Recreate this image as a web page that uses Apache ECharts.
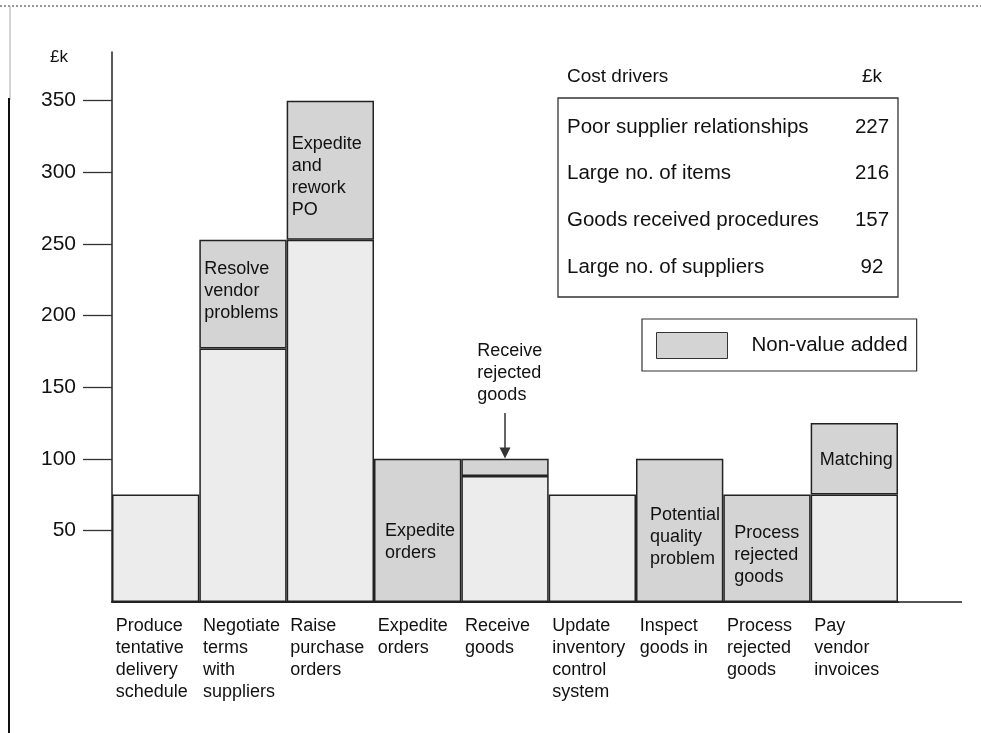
<!DOCTYPE html>
<html><head><meta charset="utf-8">
<script src="https://cdn.jsdelivr.net/npm/echarts@6/dist/echarts.min.js"></script>
<style>html,body{margin:0;padding:0;background:#fff}#c{width:981px;height:733px}</style>
</head><body><div id="c"></div>
<script>
const categories = ['Produce\ntentative\ndelivery\nschedule', 'Negotiate\nterms\nwith\nsuppliers', 'Raise\npurchase\norders', 'Expedite\norders', 'Receive\ngoods', 'Update\ninventory\ncontrol\nsystem', 'Inspect\ngoods in', 'Process\nrejected\ngoods', 'Pay\nvendor\ninvoices'];
const valueAdded = [75, 177, 253, null, 88, 75, null, null, 75];
const nonValueAdded = [null, 76, 97, 100, 12, null, 100, 75, 50];
const nvaLabels = ['', 'Resolve\nvendor\nproblems', 'Expedite\nand\nrework\nPO', 'Expedite\norders', 'Receive\nrejected\ngoods', '', 'Potential\nquality\nproblem', 'Process\nrejected\ngoods', 'Matching'];
const yTicks = [50, 100, 150, 200, 250, 300, 350];
const costDrivers = ['Poor supplier relationships', 'Large no. of items', 'Goods received procedures', 'Large no. of suppliers'];
const costValues = [227, 216, 157, 92];
const annotatedIndex = 4;

const FONT = '"Liberation Sans", Arial, sans-serif';
const TXT = '#111';
const labelPos = [null, [5, 18], [5, 32], [11, 61], [16, -119], null, [14, 45], [11, 27], [9, 26]];

const nvaData = nonValueAdded.map((v, i) => {
  const item = { value: v };
  if (nvaLabels[i]) {
    item.label = { show: true, position: labelPos[i], align: 'left', verticalAlign: 'top',
      formatter: nvaLabels[i], fontSize: 18, lineHeight: 22, color: TXT, fontFamily: FONT };
  }
  return item;
});
const annTotal = (valueAdded[annotatedIndex] || 0) + (nonValueAdded[annotatedIndex] || 0);

const tableGroup = [];
tableGroup.push({ type: 'text', x: 567, y: 77, style: { text: 'Cost drivers', font: '19px ' + FONT, fill: TXT, verticalAlign: 'middle', textAlign: 'left' } });
tableGroup.push({ type: 'text', x: 872, y: 77, style: { text: '£k', font: '19px ' + FONT, fill: TXT, verticalAlign: 'middle', textAlign: 'center' } });
tableGroup.push({ type: 'rect', shape: { x: 558, y: 98, width: 340, height: 199 }, style: { fill: 'none', stroke: '#333', lineWidth: 1.3 } });
costDrivers.forEach((d, i) => {
  const y = 127 + i * 46.7;
  tableGroup.push({ type: 'text', x: 567, y: y, style: { text: d, font: '20.5px ' + FONT, fill: TXT, verticalAlign: 'middle', textAlign: 'left' } });
  tableGroup.push({ type: 'text', x: 872, y: y, style: { text: String(costValues[i]), font: '20.5px ' + FONT, fill: TXT, verticalAlign: 'middle', textAlign: 'center' } });
});

const chart = echarts.init(document.getElementById('c'));
chart.setOption({
  animation: false,
  backgroundColor: '#fff',
  title: { text: '£k', left: 50, top: 49, padding: 0, textStyle: { fontSize: 17, fontWeight: 'normal', color: TXT, fontFamily: FONT } },
  grid: { left: 112, right: 83, top: 52, bottom: 131, containLabel: false, outerBoundsMode: 'none' },
  legend: {
    data: ['Non-value added'], left: 642, top: 319, padding: [13, 9, 12, 14],
    borderColor: '#333', borderWidth: 1.2, itemWidth: 71, itemHeight: 26, icon: 'rect', selectedMode: false,
    textStyle: { fontSize: 20.5, color: TXT, fontFamily: FONT, padding: [0, 0, 0, 19] },
    itemStyle: { borderColor: '#333', borderWidth: 1 }
  },
  xAxis: {
    type: 'category', data: categories,
    axisLine: { lineStyle: { color: '#222', width: 2 } },
    axisTick: { show: false },
    axisLabel: { interval: 0, margin: 13, fontFamily: FONT, fontSize: 18, lineHeight: 22, color: TXT,
      formatter: v => '{a|' + v + '}',
      rich: { a: { width: 80, align: 'left', fontSize: 18, lineHeight: 22, color: TXT, fontFamily: FONT } } }
  },
  yAxis: {
    type: 'value', min: 0, max: 384,
    axisLine: { show: true, lineStyle: { color: '#222', width: 1.5 } },
    axisTick: { show: true, inside: false, length: 29, customValues: yTicks, lineStyle: { color: '#333', width: 1.3 } },
    axisLabel: { customValues: yTicks, margin: 36, fontSize: 21, color: TXT, fontFamily: FONT },
    splitLine: { show: false }
  },
  series: [
    { name: 'Value added', type: 'bar', stack: 'total', barCategoryGap: '0%', data: valueAdded,
      itemStyle: { color: '#ececec', borderColor: '#222', borderWidth: 1.5 }, silent: true },
    { name: 'Non-value added', type: 'bar', stack: 'total', barCategoryGap: '0%', data: nvaData,
      itemStyle: { color: '#d4d4d4', borderColor: '#222', borderWidth: 1.5 }, silent: true,
      markLine: { silent: true, symbol: ['none', 'triangle'], symbolSize: 11, animation: false,
        lineStyle: { color: '#333', width: 1.5, type: 'solid' }, label: { show: false },
        data: [[{ coord: [annotatedIndex, annTotal + 32] }, { coord: [annotatedIndex, annTotal + 4] }]] } }
  ],
  graphic: [
    { type: 'line', shape: { x1: 0, y1: 6, x2: 981, y2: 6 }, style: { stroke: '#777', lineWidth: 1.5, lineDash: [2, 2] } },
    { type: 'line', shape: { x1: 10, y1: 6, x2: 10, y2: 100 }, style: { stroke: '#aaa', lineWidth: 1 } },
    { type: 'line', shape: { x1: 9, y1: 98, x2: 9, y2: 733 }, style: { stroke: '#111', lineWidth: 2 } },
    { type: 'line', shape: { x1: 898, y1: 602, x2: 962, y2: 602 }, style: { stroke: '#555', lineWidth: 2 } },
    { type: 'group', children: tableGroup }
  ]
});
</script></body></html>
